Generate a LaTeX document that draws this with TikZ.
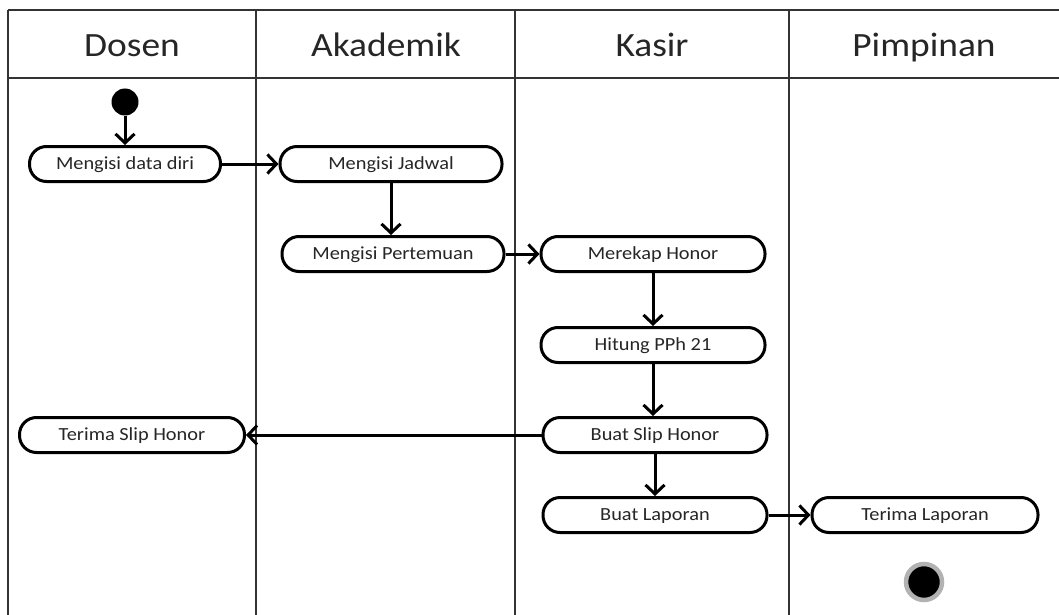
\documentclass[tikz,border=0pt]{standalone}
\usepackage{fontspec}
\setmainfont{Carlito}[FakeStretch=1.1]
\usetikzlibrary{arrows.meta}
\begin{document}
\begin{tikzpicture}[x=1pt,y=-1pt,
  frame/.style={draw=black!80,line width=1.4pt},
  act/.style={draw=black,line width=3pt,rounded corners=17pt,minimum height=35pt,inner sep=0pt,text height=12pt,text depth=1.5pt,text=black!85,font=\fontsize{18.5}{21}\selectfont},
  lane/.style={font=\fontsize{34}{38}\selectfont,text=black!85,anchor=base},
  arr/.style={line width=3pt,-{Straight Barb[length=9pt,width=19pt]}}]
\useasboundingbox (0,0) rectangle (1059,615);
\fill[white] (0,0) rectangle (1059,615);
% frame
\draw[frame] (8,10) -- (1059,10);
\draw[frame] (8,78) -- (1059,78);
\draw[frame] (8,10) -- (8,615);
\draw[frame] (256,10) -- (256,615);
\draw[frame] (515,10) -- (515,615);
\draw[frame] (789,10) -- (789,615);
% lane titles
\node[lane] (h1) at (132,57) {Dosen};
\node[lane] (h2) at (386,57) {Akademik};
\node[lane] (h3) at (652,57) {Kasir};
\node[lane] (h4) at (924,57) {Pimpinan};
% start / end
\node[circle,fill=black,minimum size=27pt,inner sep=0pt] (start) at (125,102) {};
\node[circle,fill=black,draw=black!30,line width=4.5pt,minimum size=36pt,inner sep=0pt] (end) at (924,582) {};
% activities
\node[act,minimum width=191pt] (n1) at (125,164) {Mengisi data diri};
\node[act,minimum width=222pt] (n2) at (391,164) {Mengisi Jadwal};
\node[act,minimum width=222pt] (n3) at (393,254) {Mengisi Pertemuan};
\node[act,minimum width=224pt] (n4) at (653,254) {Merekap Honor};
\node[act,minimum width=224pt] (n5) at (653,345) {Hitung PPh 21};
\node[act,minimum width=224pt] (n6) at (655,435) {Buat Slip Honor};
\node[act,minimum width=224pt] (n7) at (655,515) {Buat Laporan};
\node[act,minimum width=226pt] (n8) at (925,515) {Terima Laporan};
\node[act,minimum width=225pt] (n9) at (132,435) {Terima Slip Honor};
% flows
\draw[arr] (start) -- (n1);
\draw[arr] (n1) -- (n2);
\draw[arr] (n2.south) -- (n2.south |- n3.north);
\draw[arr] (n3) -- (n4);
\draw[arr] (n4) -- (n5);
\draw[arr] (n5.south) -- (n5.south |- n6.north);
\draw[arr] (n6) -- (n9);
\draw[arr] (n6) -- (n7);
\draw[arr] (n7) -- (n8);
\end{tikzpicture}
\end{document}
